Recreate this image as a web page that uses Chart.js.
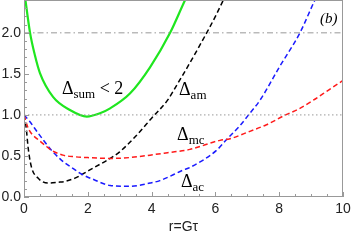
<!DOCTYPE html>
<html>
<head>
<meta charset="utf-8">
<script src="https://cdn.jsdelivr.net/npm/chart.js@4.4.1/dist/chart.umd.min.js"></script>
<style>
  html, body { margin: 0; padding: 0; background: #fff; }
  #wrap { width: 353px; height: 240px; }
</style>
</head>
<body>
<div id="wrap"><canvas id="deltaChart"></canvas></div>
<script>
// curves, r = G*tau
const sumR = [0.01, 0.19, 0.34, 0.5, 0.91, 1.44, 1.97, 2.38, 2.7, 3.32, 3.95, 4.58, 5.05, 5.15];
const sumY = [2.5, 2.0, 1.73, 1.51, 1.22, 1.06, 0.98, 1.02, 1.08, 1.26, 1.58, 2.0, 2.4, 2.48];

const amR = [0, 0.07, 0.13, 0.23, 0.44, 0.75, 1.07, 1.29, 1.6, 1.75, 2.2, 2.7, 3.0, 3.5, 4.0, 4.5, 4.8, 5.0, 5.5, 6.0, 6.25];
const amY = [1.0, 0.84, 0.6, 0.37, 0.23, 0.17, 0.18, 0.19, 0.23, 0.26, 0.36, 0.47, 0.55, 0.74, 0.96, 1.18, 1.37, 1.5, 1.84, 2.2, 2.4];

const mcR = [0, 0.13, 0.24, 0.44, 0.66, 0.86, 1.22, 1.6, 2.0, 2.7, 3.3, 3.95, 4.5, 5.2, 6.14, 6.46, 7.08, 7.6, 8.2, 8.6, 9.07, 9.5, 10];
const mcY = [1.0, 0.84, 0.77, 0.7, 0.63, 0.57, 0.51, 0.49, 0.48, 0.47, 0.48, 0.51, 0.54, 0.58, 0.69, 0.71, 0.8, 0.88, 1.0, 1.07, 1.18, 1.29, 1.42];

const acR = [0, 0.18, 0.44, 0.86, 1.17, 1.6, 1.75, 2.2, 2.7, 3.3, 3.95, 4.26, 5.0, 5.2, 6.04, 6.35, 6.77, 7.08, 7.4, 8.0, 8.65, 9.12, 9.2];
const acY = [1.0, 0.92, 0.78, 0.57, 0.45, 0.33, 0.29, 0.21, 0.14, 0.13, 0.17, 0.2, 0.33, 0.36, 0.57, 0.7, 0.87, 1.02, 1.18, 1.58, 2.0, 2.4, 2.46];

// horizontal guides
const guideLevels = [2.0, 1.0];
const xRange = [0, 10];

const xTitle = 'r=G\u03C4';

// curve labels: [main, subscript, tail, r, y]
const curveLabels = [
    ['\u0394', 'sum', ' < 2', 1.19, 1.26],
    ['\u0394', 'am', '', 4.86, 1.24],
    ['\u0394', 'mc', '', 4.8, 0.69],
    ['\u0394', 'ac', '', 4.92, 0.12]
];
const panelTag = ['(b)', 9.28, 2.12];

const pts = (xs, ys) => xs.map((v, i) => ({ x: v, y: ys[i] }));

function curve(xs, ys, color, dash, width) {
    return {
        data: pts(xs, ys),
        borderColor: color,
        borderWidth: width,
        borderDash: dash,
        showLine: true,
        pointRadius: 0,
        fill: false,
        cubicInterpolationMode: 'monotone'
    };
}

const guides = [
    {
        data: pts(xRange, [guideLevels[0], guideLevels[0]]),
        borderColor: '#999', borderWidth: 1, borderDash: [6, 3, 1.5, 3],
        showLine: true, pointRadius: 0
    },
    {
        data: pts(xRange, [guideLevels[1], guideLevels[1]]),
        borderColor: '#999', borderWidth: 1, borderDash: [1.5, 2.5],
        showLine: true, pointRadius: 0
    }
];

const tickFont = { family: '"Liberation Sans", Arial, sans-serif', size: 14 };

const frame = {
    id: 'frame',
    afterDatasetsDraw(chart) {
        const { ctx, chartArea: a, scales: { x, y } } = chart;
        ctx.save();
        ctx.strokeStyle = '#999';
        ctx.lineWidth = 1;
        ctx.setLineDash([]);
        ctx.strokeRect(a.left + 0.5, a.top + 0.5, a.width - 1, a.height - 1);
        ctx.beginPath();
        x.ticks.forEach(t => {
            const px = Math.round(x.getPixelForValue(t.value)) + 0.5;
            const len = t.label !== '' ? 5 : 3;
            ctx.moveTo(px, a.bottom);
            ctx.lineTo(px, a.bottom - len);
        });
        y.ticks.forEach(t => {
            const py = Math.round(y.getPixelForValue(t.value)) + 0.5;
            const len = t.label !== '' ? 5 : 3;
            ctx.moveTo(a.left, py);
            ctx.lineTo(a.left + len, py);
        });
        ctx.stroke();

        // curve labels
        ctx.fillStyle = '#000';
        ctx.textBaseline = 'alphabetic';
        ctx.textAlign = 'left';
        curveLabels.forEach(([main, sub, tail, r, v]) => {
            let px = x.getPixelForValue(r);
            const py = y.getPixelForValue(v);
            ctx.font = '18px "Liberation Serif", serif';
            ctx.fillText(main, px, py);
            px += ctx.measureText(main).width;
            ctx.font = '13px "Liberation Serif", serif';
            ctx.fillText(sub, px, py + 4);
            px += ctx.measureText(sub).width;
            if (tail) {
                ctx.font = '18px "Liberation Serif", serif';
                ctx.fillText(tail, px, py);
            }
        });
        ctx.font = 'italic 15px "Liberation Serif", serif';
        ctx.fillText(panelTag[0], x.getPixelForValue(panelTag[1]), y.getPixelForValue(panelTag[2]));
        ctx.restore();
    }
};

const chart = new Chart(document.getElementById('deltaChart'), {
    type: 'scatter',
    data: {
        datasets: [
            ...guides,
            curve(mcR, mcY, '#ff1a1a', [5, 3], 1.5),
            curve(acR, acY, '#1a1aff', [5, 3], 1.5),
            curve(amR, amY, '#000', [5, 3], 1.5),
            curve(sumR, sumY, '#1fe61f', [], 2.2)
        ]
    },
    plugins: [frame],
    options: {
        responsive: true,
        maintainAspectRatio: false,
        animation: false,
        layout: { padding: { top: 0, right: 10, left: 0, bottom: 0 } },
        plugins: { legend: { display: false }, tooltip: { enabled: false } },
        scales: {
            x: {
                type: 'linear', min: 0, max: 10,
                grid: { display: false, drawTicks: false },
                border: { display: false },
                afterFit(s) { s.height = 43; s.paddingLeft = 0; s.paddingRight = 0; },
                ticks: {
                    stepSize: 0.5, autoSkip: false, maxRotation: 0, padding: 4,
                    color: '#222', font: tickFont,
                    callback: v => (Math.abs(v / 2 - Math.round(v / 2)) < 1e-6 ? String(v) : '')
                },
                title: {
                    display: true, text: xTitle, color: '#222', padding: { top: 2, bottom: 4 },
                    font: tickFont
                }
            },
            y: {
                min: 0, max: 2.4,
                grid: { display: false, drawTicks: false },
                border: { display: false },
                afterFit(s) { s.width = 24; s.paddingTop = 0; s.paddingBottom = 0; },
                ticks: {
                    stepSize: 0.1, autoSkip: false, padding: 3,
                    color: '#222', font: tickFont,
                    callback: v => (Math.abs(v * 2 - Math.round(v * 2)) < 1e-6 ? v.toFixed(1) : '')
                }
            }
        }
    }
});
</script>
</body>
</html>
